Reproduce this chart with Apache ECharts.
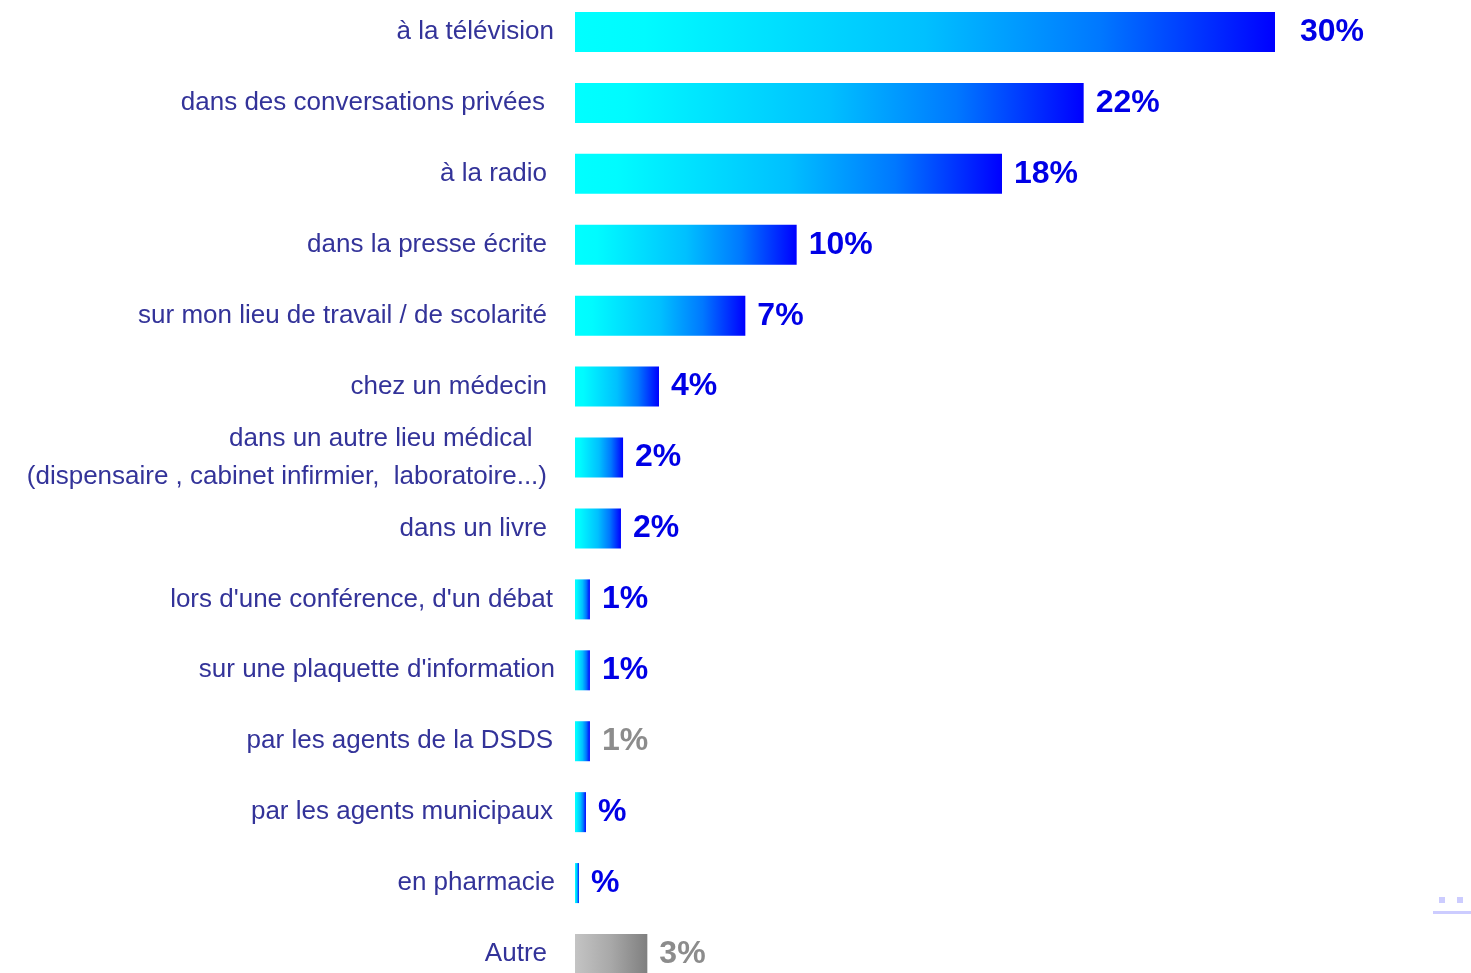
<!DOCTYPE html>
<html>
<head>
<meta charset="utf-8">
<script src="https://cdn.jsdelivr.net/npm/echarts@6/dist/echarts.min.js"></script>
<style>
html,body{margin:0;padding:0;background:#fff;}
#chart{width:1471px;height:973px;}
</style>
</head>
<body>
<div id="chart"></div>
<script>
const categories = [
  "à la télévision",
  "dans des conversations privées",
  "à la radio",
  "dans la presse écrite",
  "sur mon lieu de travail / de scolarité",
  "chez un médecin",
  "dans un autre lieu médical  \n(dispensaire , cabinet infirmier,  laboratoire...)",
  "dans un livre",
  "lors d'une conférence, d'un débat",
  "sur une plaquette d'information",
  "par les agents de la DSDS",
  "par les agents municipaux",
  "en pharmacie",
  "Autre"
];
const values = [30.0, 21.8, 18.3, 9.5, 7.3, 3.6, 2.06, 1.97, 0.64, 0.64, 0.64, 0.47, 0.17, 3.1];
const valueLabels = ["30%", "22%", "18%", "10%", "7%", "4%", "2%", "2%", "1%", "1%", "1%", "%", "%", "3%"];

const greyLabelCats = ["par les agents de la DSDS", "Autre"];
const greyBarCats = ["Autre"];
// extra right padding (px) of individual category labels, by index
const labelPadRight = [1, 10, 8, 8, 8, 8, 8, 8, 2, 0, 2, 2, 0, 8];

const blueGrad = new echarts.graphic.LinearGradient(0, 0, 1, 0, [
  {offset: 0, color: '#00ffff'},
  {offset: 0.1, color: '#00fbff'},
  {offset: 0.5, color: '#00c0ff'},
  {offset: 0.75, color: '#0078ff'},
  {offset: 1, color: '#0000ff'}
]);
const greyGrad = new echarts.graphic.LinearGradient(0, 0, 1, 0, [
  {offset: 0, color: '#c4c4c4'},
  {offset: 0.5, color: '#a8a8a8'},
  {offset: 1, color: '#7f7f7f'}
]);

const data = values.map((v, i) => ({
  value: v,
  itemStyle: {color: greyBarCats.includes(categories[i]) ? greyGrad : blueGrad},
  label: Object.assign(
    {color: greyLabelCats.includes(categories[i]) ? '#8c8c8c' : '#0000e6'},
    i === 0 ? {distance: 25} : {}
  )
}));

const rich = {};
labelPadRight.forEach((p, i) => {
  rich['c' + i] = {
    color: '#333399', fontSize: 26, lineHeight: 38,
    fontFamily: 'Liberation Sans, Arial, sans-serif',
    padding: [0, p, 0, 0], align: 'right'
  };
});

const chart = echarts.init(document.getElementById('chart'), null, {renderer: 'canvas'});
chart.setOption({
  backgroundColor: '#ffffff',
  animation: false,
  grid: {left: 575, width: 700, top: 32, height: 923, containLabel: false},
  xAxis: {
    type: 'value', min: 0, max: 30, show: false
  },
  yAxis: {
    type: 'category', data: categories, inverse: true, boundaryGap: false,
    axisLine: {show: false}, axisTick: {show: false}, splitLine: {show: false},
    axisLabel: {
      margin: 20, color: '#333399', fontSize: 26, lineHeight: 38,
      fontFamily: 'Liberation Sans, Arial, sans-serif', align: 'right',
      formatter: (val, idx) => val.split('\n').map(l => '{c' + idx + '|' + l + '}').join('\n'),
      rich: rich
    }
  },
  series: [{
    type: 'bar', data: data, barWidth: 40,
    label: {
      show: true, position: 'right', distance: 12,
      fontSize: 32, fontWeight: 'bold', fontFamily: 'Liberation Sans, Arial, sans-serif',
      formatter: p => valueLabels[p.dataIndex]
    }
  }],
  graphic: [
    {type: 'rect', shape: {x: 1439, y: 897, width: 6, height: 6}, style: {fill: '#ccccff'}},
    {type: 'rect', shape: {x: 1457, y: 897, width: 6, height: 6}, style: {fill: '#ccccff'}},
    {type: 'rect', shape: {x: 1433, y: 911, width: 38, height: 3}, style: {fill: '#ccccff'}}
  ]
});
</script>
</body>
</html>
